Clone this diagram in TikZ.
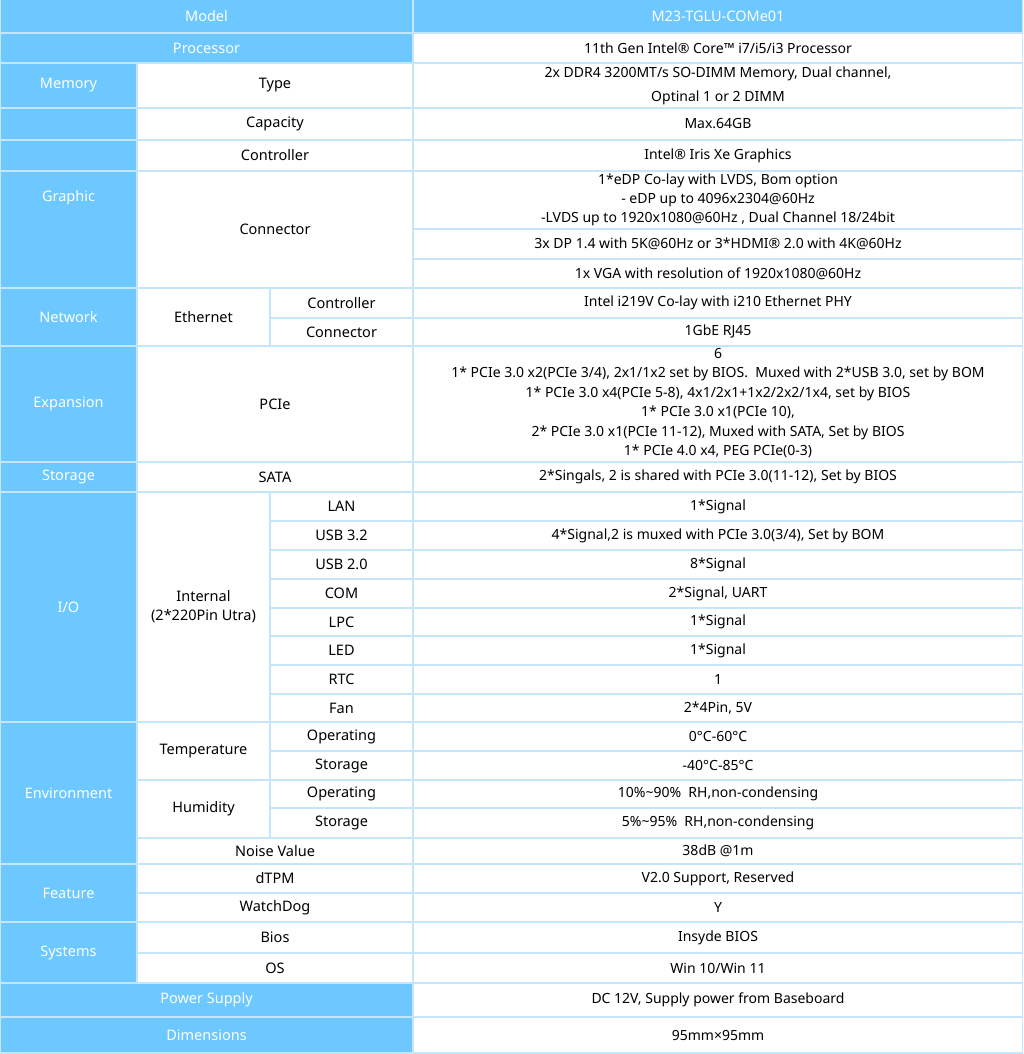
\documentclass[tikz,border=0pt]{standalone}
\usepackage{fontspec}
\setmainfont{Noto Sans}
\begin{document}
\definecolor{hb}{HTML}{6CC8FF}
\definecolor{gl}{HTML}{C5E6FA}
\newcommand{\bc}[5]{\fill[hb] (#1,#2) rectangle (#3,#4); \node[bt] at ({(#1+#3)/2},{(#2+#4)/2}) {#5};}
\newcommand{\wc}[5]{\node[wt] at ({(#1+#3)/2},{(#2+#4)/2}) {#5};}
\newcommand{\vc}[3]{\node[vt] at (718,{(#1+#2)/2}) {#3};}
\begin{tikzpicture}[x=1pt,y=-1pt,
 bt/.style={text=white,font=\fontsize{14.5}{19}\selectfont\bfseries,align=center},
 wt/.style={text=black,font=\fontsize{14.5}{19}\selectfont\bfseries,align=center},
 vt/.style={text=black,font=\fontsize{14}{19.4}\selectfont,align=center},
 g/.style={gl,line width=1.5pt}]
\fill[white] (0,0) rectangle (1023,1054);
\useasboundingbox (0,0) rectangle (1023,1054);
% blue cells
\bc{0}{0}{413}{33}{Model}
\fill[hb] (413,0) rectangle (1023,33); \node[bt] at (718,16.5) {M23-TGLU-COMe01};
\bc{0}{33}{413}{63}{Processor}
\bc{0}{63}{137}{108}{Memory}
\bc{0}{108}{137}{288}{Graphic}
\bc{0}{288}{137}{346}{Network}
\bc{0}{346}{137}{462}{Expansion}
\bc{0}{462}{137}{492}{Storage}
\bc{0}{492}{137}{722}{I/O}
\bc{0}{722}{137}{864}{Environment}
\bc{0}{864}{137}{922}{Feature}
\bc{0}{922}{137}{983}{Systems}
\bc{0}{983}{413}{1017}{Power Supply}
\bc{0}{1017}{413}{1054}{Dimensions}
% grid lines
\foreach \y in {33,63,108,140,171,288,346,462,492,722,864,922,983,1017} \draw[g] (0,\y) -- (1023,\y);
\foreach \y in {229,259} \draw[g] (413,\y) -- (1023,\y);
\draw[g] (270,318) -- (1023,318);
\foreach \y in {521,550,579,608,636,665,694} \draw[g] (270,\y) -- (1023,\y);
\foreach \y in {751,808} \draw[g] (270,\y) -- (1023,\y);
\draw[g] (137,780) -- (1023,780);
\draw[g] (137,838) -- (1023,838);
\draw[g] (137,893) -- (1023,893);
\draw[g] (137,953) -- (1023,953);
\draw[g] (413,0) -- (413,1054);
\draw[g] (137,63) -- (137,983);
\draw[g] (270,288) -- (270,346);
\draw[g] (270,492) -- (270,838);
\draw[g] (1022.5,0) -- (1022.5,1054);
\draw[g] (0,1053) -- (1023,1053);
\draw[g] (0.5,0) -- (0.5,1054);
% white labels
\wc{137}{63}{413}{108}{Type}
\wc{137}{108}{413}{140}{Capacity}
\wc{137}{140}{413}{171}{Controller}
\wc{137}{171}{413}{288}{Connector}
\wc{137}{288}{270}{346}{Ethernet}
\wc{270}{288}{413}{318}{Controller}
\wc{270}{318}{413}{346}{Connector}
\wc{137}{346}{413}{462}{PCIe}
\wc{137}{462}{413}{492}{SATA}
\wc{137}{492}{270}{722}{Internal\\(2*220Pin Utra)}
\wc{270}{492}{413}{521}{LAN}
\wc{270}{521}{413}{550}{USB 3.2}
\wc{270}{550}{413}{579}{USB 2.0}
\wc{270}{579}{413}{608}{COM}
\wc{270}{608}{413}{636}{LPC}
\wc{270}{636}{413}{665}{LED}
\wc{270}{665}{413}{694}{RTC}
\wc{270}{694}{413}{722}{Fan}
\wc{137}{722}{270}{780}{Temperature}
\wc{270}{722}{413}{751}{Operating}
\wc{270}{751}{413}{780}{Storage}
\wc{137}{780}{270}{838}{Humidity}
\wc{270}{780}{413}{808}{Operating}
\wc{270}{808}{413}{838}{Storage}
\wc{137}{838}{413}{864}{Noise Value}
\wc{137}{864}{413}{893}{dTPM}
\wc{137}{893}{413}{922}{WatchDog}
\wc{137}{922}{413}{953}{Bios}
\wc{137}{953}{413}{983}{OS}
% values
\vc{33}{63}{11th Gen Intel® Core™ i7/i5/i3 Processor}
\node[vt,font=\fontsize{14}{24}\selectfont] at (718,85.5) {2x DDR4 3200MT/s SO-DIMM Memory, Dual channel,\\Optinal 1 or 2 DIMM};
\vc{108}{140}{Max.64GB}
\vc{140}{171}{Intel® Iris Xe Graphics}
\node[vt,font=\fontsize{14}{19}\selectfont] at (718,200) {1*eDP Co-lay with LVDS, Bom option\\- eDP up to 4096x2304@60Hz\\-LVDS up to 1920x1080@60Hz , Dual Channel 18/24bit};
\vc{229}{259}{3x DP 1.4 with 5K@60Hz or 3*HDMI® 2.0 with 4K@60Hz}
\vc{259}{288}{1x VGA with resolution of 1920x1080@60Hz}
\vc{288}{318}{Intel i219V Co-lay with i210 Ethernet PHY}
\vc{318}{346}{1GbE RJ45}
\node[vt,font=\fontsize{14}{19.4}\selectfont] at (718,403) {6\\1* PCIe 3.0 x2(PCIe 3/4), 2x1/1x2 set by BIOS.\ \ Muxed with 2*USB 3.0, set by BOM\\1* PCIe 3.0 x4(PCIe 5-8), 4x1/2x1+1x2/2x2/1x4, set by BIOS\\1* PCIe 3.0 x1(PCIe 10),\\2* PCIe 3.0 x1(PCIe 11-12), Muxed with SATA, Set by BIOS\\1* PCIe 4.0 x4, PEG PCIe(0-3)};
\vc{462}{492}{2*Singals, 2 is shared with PCIe 3.0(11-12), Set by BIOS}
\vc{492}{521}{1*Signal}
\vc{521}{550}{4*Signal,2 is muxed with PCIe 3.0(3/4), Set by BOM}
\vc{550}{579}{8*Signal}
\vc{579}{608}{2*Signal, UART}
\vc{608}{636}{1*Signal}
\vc{636}{665}{1*Signal}
\vc{665}{694}{1}
\vc{694}{722}{2*4Pin, 5V}
\vc{722}{751}{0°C-60°C}
\vc{751}{780}{-40°C-85°C}
\vc{780}{808}{10\%\textasciitilde90\%\ \ RH,non-condensing}
\vc{808}{838}{5\%\textasciitilde95\%\ \ RH,non-condensing}
\vc{838}{864}{38dB @1m}
\vc{864}{893}{V2.0 Support, Reserved}
\vc{893}{922}{Y}
\vc{922}{953}{Insyde BIOS}
\vc{953}{983}{Win 10/Win 11}
\vc{983}{1017}{DC 12V, Supply power from Baseboard}
\vc{1017}{1054}{95mm×95mm}
\end{tikzpicture}
\end{document}
